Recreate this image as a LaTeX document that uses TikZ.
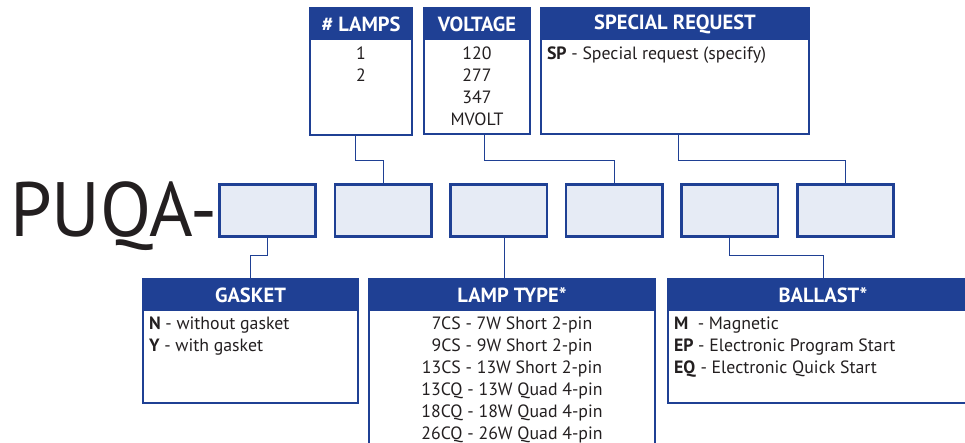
\documentclass[tikz,border=0pt]{standalone}
\usepackage{fontspec}
\setmainfont{PT Sans}
\usetikzlibrary{positioning}
\definecolor{hblue}{RGB}{31,64,148}
\definecolor{slotfill}{RGB}{230,235,245}
\definecolor{ink}{RGB}{35,31,32}

\begin{document}
\begin{tikzpicture}[
    x=1pt, y=-1pt,
    frame/.style={draw=hblue, line width=1.2pt, inner sep=0pt, outer sep=0pt, anchor=north west},
    head/.style={fill=hblue, text=white, font=\fontsize{20.5}{22}\selectfont\bfseries, minimum height=32pt, inner sep=0pt, anchor=north},
    list/.style={text=ink, font=\fontsize{17.8}{22.1}\selectfont, inner sep=0pt},
    slot/.style={draw=hblue, line width=2.6pt, fill=slotfill, minimum width=96.4pt, minimum height=52.4pt, inner sep=0pt},
    wire/.style={draw=hblue, line width=1pt}
]
    \path[use as bounding box, clip] (0,0) rectangle (965,443);

    % top boxes
    \node[frame, minimum width=102pt, minimum height=127pt] (lamps) at (310,8) {};
    \node[head, minimum width=102pt] (lampsH) at (lamps.north) {\# LAMPS};
    \node[list, align=center, anchor=north, below=6pt of lampsH] (lampsL) {1\\2};

    \node[frame, minimum width=106pt, minimum height=126pt] (volt) at (424,8) {};
    \node[head, minimum width=106pt] (voltH) at (volt.north) {VOLTAGE};
    \node[list, align=center, anchor=north, below=6pt of voltH] (voltL) {120\\277\\347\\MVOLT};

    \node[frame, minimum width=268pt, minimum height=126pt] (spec) at (541,8) {};
    \node[head, minimum width=268pt] (specH) at (spec.north) {SPECIAL REQUEST};
    \node[list, align=left, below right=6pt and 6pt of specH.south west] (specL) {\textbf{SP} - Special request (specify)};

    % code slots
    \node[text=ink, inner sep=0pt, anchor=base west, font=\fontsize{77}{77}\selectfont] (code) at (10,237) {\scalebox{0.97}[1]{PUQA-}};
    \node[slot, anchor=north west] (s1) at (218,183) {};
    \node[slot, right=16.6pt of s1] (s2) {};
    \node[slot, right=16.6pt of s2] (s3) {};
    \node[slot, right=16.6pt of s3] (s4) {};
    \node[slot, right=16.6pt of s4] (s5) {};
    \node[slot, right=16.6pt of s5] (s6) {};

    % bottom boxes
    \node[frame, minimum width=215pt, minimum height=124pt] (gasket) at (143,279) {};
    \node[head, minimum width=215pt] (gasketH) at (gasket.north) {GASKET};
    \node[list, align=left, below right=5pt and 6pt of gasketH.south west] (gasketL) {\textbf{N} - without gasket\\\textbf{Y} - with gasket};

    \node[frame, minimum width=286pt, minimum height=200pt] (lamp) at (369,279) {};
    \node[head, minimum width=286pt] (lampH) at (lamp.north) {LAMP TYPE*};
    \node[list, align=center, anchor=north, below=5pt of lampH] (lampL) {7CS - 7W Short 2-pin\\9CS - 9W Short 2-pin\\13CS - 13W Short 2-pin\\13CQ - 13W Quad 4-pin\\18CQ - 18W Quad 4-pin\\26CQ - 26W Quad 4-pin};

    \node[frame, minimum width=310pt, minimum height=124pt] (ballast) at (668,279) {};
    \node[head, minimum width=310pt] (ballastH) at (ballast.north) {BALLAST*};
    \node[list, align=left, below right=5pt and 6pt of ballastH.south west] (ballastL) {\textbf{M}\ \ - Magnetic\\\textbf{EP} - Electronic Program Start\\\textbf{EQ} - Electronic Quick Start};

    % connectors
    \coordinate (lampsT) at ([xshift=-6pt]lamps.south);
    \coordinate (voltT) at ([xshift=7pt]volt.south);
    \coordinate (specT) at ([xshift=3pt]spec.south);
    \coordinate (s3T) at ([xshift=6pt]s3.south);
    \draw[wire] (lampsT) |- ([yshift=22pt]s2.north) -- (s2.north);
    \draw[wire] (voltT) |- ([yshift=22pt]s4.north) -- (s4.north);
    \draw[wire] (specT) |- ([yshift=22pt]s6.north) -- (s6.north);
    \draw[wire] (s1.south) |- ([yshift=23pt]gasket.north) -- (gasket.north);
    \draw[wire] (s3T) -- (s3T |- lamp.north);
    \draw[wire] (s5.south) |- ([yshift=23pt]ballast.north) -- (ballast.north);
\end{tikzpicture}
\end{document}
